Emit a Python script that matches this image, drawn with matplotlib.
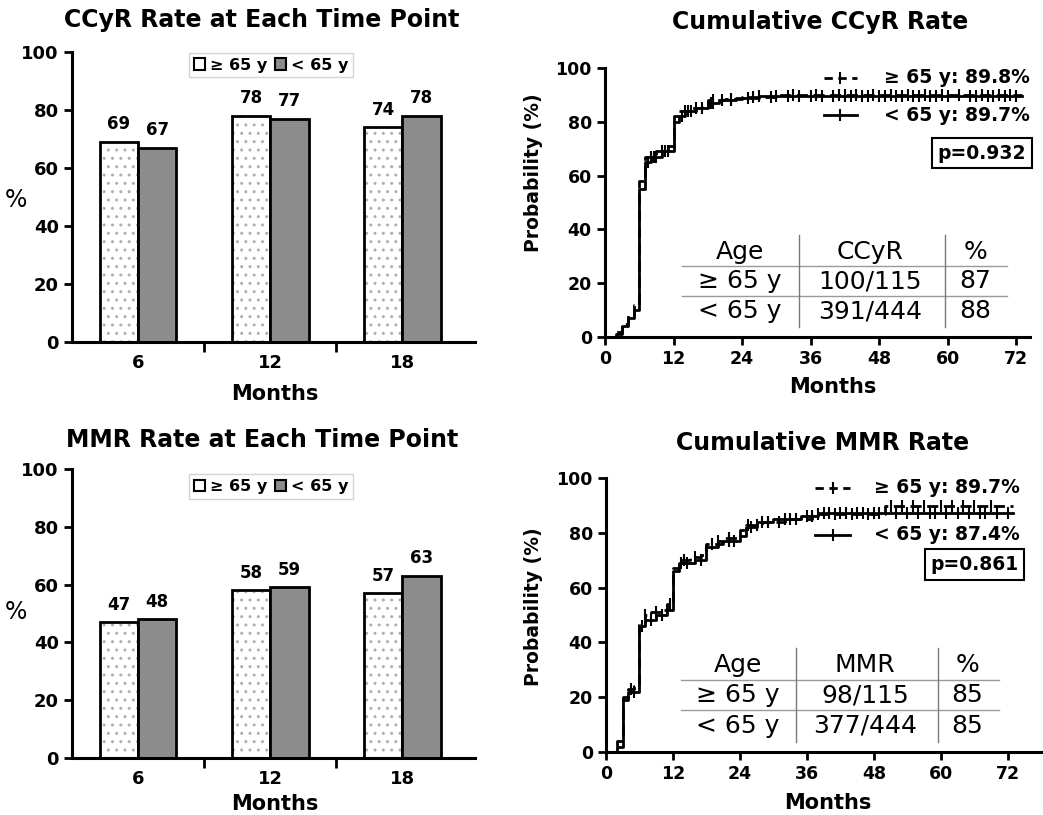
import numpy as np
import matplotlib
matplotlib.use("Agg")
import matplotlib.pyplot as plt
from matplotlib.patches import Patch

# ---- bar chart data ----
months = ["6", "12", "18"]
ccyr_old = [69, 78, 74]
ccyr_young = [67, 77, 78]
mmr_old = [47, 58, 57]
mmr_young = [48, 59, 63]

# ---- Kaplan-Meier style curves (step times, cumulative %) ----
ccyr_old_t = [0, 2, 3, 4, 5, 6, 7, 9, 11, 12, 13, 15, 17, 18, 21, 24, 30]
ccyr_old_p = [0, 2, 5, 8, 12, 58, 67, 69, 71, 82, 84, 85, 86, 88, 88.5, 89.3, 89.8]
ccyr_old_cens = [8, 10, 14, 16, 19, 22, 26, 29, 33, 37, 41, 42, 44, 47, 50, 53,
                 56, 59, 62, 66, 69, 71]
ccyr_young_t = [0, 2, 3, 4, 5, 6, 7, 8, 10, 12, 13, 14, 16, 18, 20, 23, 27]
ccyr_young_p = [0, 1, 4, 7, 10, 55, 65, 67, 69, 80, 82, 84, 85, 87, 88, 89, 89.7]
ccyr_young_cens = [7.5, 8.5, 9, 10.5, 11, 13.5, 14.5, 15, 17, 18.5, 19, 20.5, 22, 25,
                   27, 30, 32, 34, 36, 38, 40, 42, 43, 45, 46, 48, 49, 51, 52, 54,
                   55, 57, 58, 60, 64, 65, 67, 68, 70, 72]
ccyr_end = 73

mmr_old_t = [0, 2, 3, 4, 5, 6, 7, 8, 10, 11, 12, 13, 15, 17, 18, 21, 24, 25, 28, 32,
             37, 50]
mmr_old_p = [0, 4, 20, 23, 24, 47, 50, 51, 52, 54, 67, 70, 71, 72, 76, 78, 81, 83, 84,
             85, 87, 89.7]
mmr_old_cens = [4.5, 7, 9, 11.5, 14, 16, 19, 22, 25.5, 27, 29, 31, 34, 38, 41, 44, 47,
                51, 53, 55, 57, 60, 62, 64, 66, 69]
mmr_young_t = [0, 2, 3, 4, 6, 7, 9, 11, 12, 13, 16, 18, 20, 24, 25, 27, 30, 35, 38]
mmr_young_p = [0, 2, 19, 22, 46, 48, 50, 52, 66, 69, 70, 75, 77, 79, 82, 84, 85, 86,
               87.4]
mmr_young_cens = [5, 6.5, 8, 10, 11, 13.5, 14.5, 17, 20, 22, 23, 26, 28, 29, 32, 33,
                  36, 37, 39, 40, 42, 43, 45, 46, 48, 49, 52, 54, 56, 58, 59, 61, 63,
                  65, 67, 68, 70, 72]
mmr_end = 73

ccyr_table = [["Age", "CCyR", "%"], ["≥ 65 y", "100/115", "87"], ["< 65 y", "391/444", "88"]]
mmr_table = [["Age", "MMR", "%"], ["≥ 65 y", "98/115", "85"], ["< 65 y", "377/444", "85"]]
ccyr_legend = ["≥ 65 y: 89.8%", "< 65 y: 89.7%"]
mmr_legend = ["≥ 65 y: 89.7%", "< 65 y: 87.4%"]

W, H = 1043, 815
fig = plt.figure(figsize=(W / 100, H / 100), dpi=100)


def fx(px):
    return px / W


def fy(py):
    return 1 - py / H


def style_axes(ax, size):
    for s in ["top", "right"]:
        ax.spines[s].set_visible(False)
    for s in ["left", "bottom"]:
        ax.spines[s].set_linewidth(2.2)
    ax.tick_params(width=2, length=6, direction="out", labelsize=size)
    for lab in ax.get_xticklabels() + ax.get_yticklabels():
        lab.set_fontweight("bold")


def bar_panel(rect, old, young, leg_y):
    ax = fig.add_axes(rect)
    x = np.arange(len(months))
    w = 0.29
    ax.bar(x - w / 2, old, w, color="white", hatch="..", edgecolor="#b0b0b0", lw=0)
    ax.bar(x - w / 2, old, w, color="none", edgecolor="black", lw=2)
    ax.bar(x + w / 2, young, w, color="#8c8c8c", edgecolor="black", lw=2)
    for xi, v in zip(x - w / 2, old):
        ax.text(xi, v + 3, str(v), ha="center", va="bottom", fontsize=12, fontweight="bold")
    for xi, v in zip(x + w / 2, young):
        ax.text(xi, v + 3, str(v), ha="center", va="bottom", fontsize=12, fontweight="bold")
    ax.set_xlim(-0.5, 2.55)
    ax.set_ylim(0, 100)
    ax.set_yticks(range(0, 101, 20))
    ax.set_xticks(x)
    ax.set_xticklabels(months)
    ax.set_xticks([0.5, 1.5], minor=True)
    style_axes(ax, 13)
    ax.tick_params(axis="x", which="major", length=0, pad=9)
    ax.tick_params(axis="x", which="minor", length=7, width=2)
    handles = [Patch(facecolor="white", edgecolor="black", lw=1.5),
               Patch(facecolor="#8c8c8c", edgecolor="black", lw=1.5)]
    leg = ax.legend(handles, ["≥ 65 y", "< 65 y"], ncol=2, loc="center",
                    bbox_to_anchor=(0.494, leg_y), handlelength=0.7, handleheight=0.7,
                    handletextpad=0.3, columnspacing=0.5, fancybox=False,
                    borderpad=0.3, edgecolor="#c8c8c8",
                    prop={"weight": "bold", "size": 11.5})
    leg.get_frame().set_linewidth(1)
    return ax


def km_values(t, p, times):
    idx = np.searchsorted(t, times, side="right") - 1
    return np.asarray(p)[idx]


def km_panel(rect, xmax, old_t, old_p, old_c, young_t, young_p, young_c, end,
             table, legend_labels, pval, leg_x, leg_y, handle_x):
    ax = fig.add_axes(rect)
    ax.step(young_t + [end], young_p + [young_p[-1]], where="post", color="black", lw=2)
    ax.step(old_t + [end], old_p + [old_p[-1]], where="post", color="black", lw=2,
            ls=(0, (4, 2)))
    ax.plot(young_c, km_values(young_t, young_p, young_c), ls="none", marker="|",
            ms=8, mew=1.5, color="black")
    ax.plot(old_c, km_values(old_t, old_p, old_c), ls="none", marker="|",
            ms=8, mew=1.5, color="black")
    ax.set_xlim(0, xmax)
    ax.set_ylim(0, 100)
    ax.set_xticks(range(0, 73, 12))
    ax.set_yticks(range(0, 101, 20))
    style_axes(ax, 12.5)

    # legend drawn by hand: sample line with censor tick, then label
    styles = [(0, (3, 2)), "-"]
    for ly, lab, st in zip(leg_y, legend_labels, styles):
        ax.plot(handle_x, [ly, ly], color="black", lw=2, ls=st, clip_on=False)
        ax.plot([np.mean(handle_x)], [ly], marker="|", ms=9, mew=1.5, color="black",
                clip_on=False)
        ax.text(leg_x, ly, lab, ha="right", va="center", fontsize=13.5, fontweight="bold")

    ax.text(66, 68.4, pval, ha="center", va="center", fontsize=13.5, fontweight="bold",
            bbox=dict(boxstyle="square,pad=0.3", facecolor="white", edgecolor="black", lw=1.5))

    col_x = [23.6, 46.4, 64.8]
    row_y = [31.6, 20.8, 9.5]
    for r, row in enumerate(table):
        for c, txt in enumerate(row):
            ax.text(col_x[c], row_y[r], txt, ha="center", va="center", fontsize=18)
    for yl in [26.4, 15.3]:
        ax.plot([13.5, 70.4], [yl, yl], color="#9a9a9a", lw=1)
    for xl in [34, 59.5]:
        ax.plot([xl, xl], [3.7, 37.9], color="#7a7a7a", lw=1)
    return ax


bar_panel([fx(72), fy(342), fx(403), fy(52) - fy(342)], ccyr_old, ccyr_young, 0.955)
bar_panel([fx(72), fy(758), fx(403), fy(469) - fy(758)], mmr_old, mmr_young, 0.94)

km_panel([fx(605), fy(337), fx(74.5 * 5.71), fy(68) - fy(337)], 74.5,
         ccyr_old_t, ccyr_old_p, ccyr_old_cens, ccyr_young_t, ccyr_young_p,
         ccyr_young_cens, ccyr_end, ccyr_table, ccyr_legend, "p=0.932",
         74.4, [96.3, 82.5], [38.3, 44.1])
km_panel([fx(606), fy(752), fx(1043 - 606), fy(478) - fy(752)], (1043 - 606) / 5.58,
         mmr_old_t, mmr_old_p, mmr_old_cens, mmr_young_t, mmr_young_p,
         mmr_young_cens, mmr_end, mmr_table, mmr_legend, "p=0.861",
         74.2, [96.4, 79.2], [37.5, 43.7])

title_kw = dict(ha="center", va="center", fontsize=17, fontweight="bold")
fig.text(fx(262), fy(20), "CCyR Rate at Each Time Point", **title_kw)
fig.text(fx(820), fy(22), "Cumulative CCyR Rate", **title_kw)
fig.text(fx(262), fy(440), "MMR Rate at Each Time Point", **title_kw)
fig.text(fx(823), fy(443), "Cumulative MMR Rate", **title_kw)

lab_kw = dict(ha="center", va="center", fontsize=15, fontweight="bold")
fig.text(fx(275), fy(394), "Months", **lab_kw)
fig.text(fx(275), fy(804), "Months", **lab_kw)
fig.text(fx(833), fy(387), "Months", **lab_kw)
fig.text(fx(828), fy(803), "Months", **lab_kw)
fig.text(fx(533), fy(173), "Probability (%)", rotation=90, fontsize=13.5,
         fontweight="bold", ha="center", va="center")
fig.text(fx(533), fy(607), "Probability (%)", rotation=90, fontsize=13.5,
         fontweight="bold", ha="center", va="center")
fig.text(fx(16), fy(200), "%", ha="center", va="center", fontsize=17)
fig.text(fx(16), fy(612), "%", ha="center", va="center", fontsize=17)

fig.savefig("out.png", dpi=100)
